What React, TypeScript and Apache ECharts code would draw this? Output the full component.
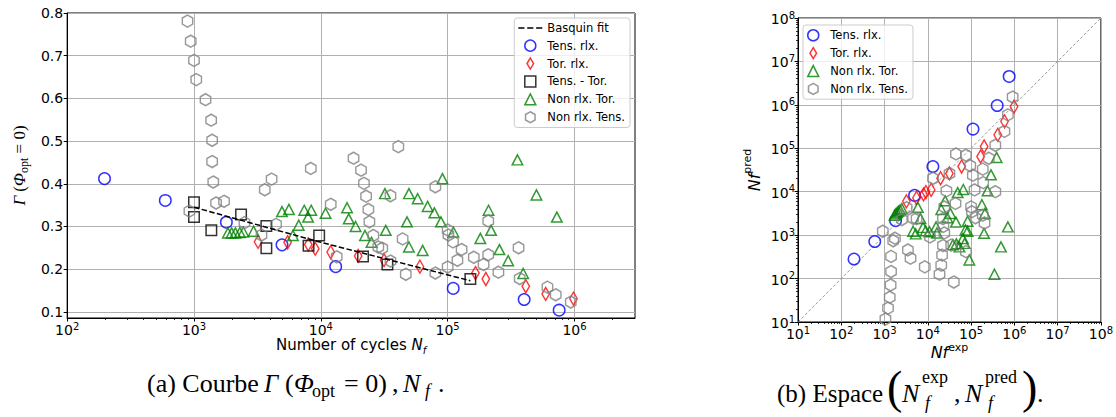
import React, { useEffect, useRef } from "react";
import * as echarts from "echarts";

// ---------- Left chart: Gamma vs N_f ----------
const tensRlxN = [197, 594, 1800, 4940, 13100, 110600, 401000, 757000];
const tensRlxGamma = [0.412, 0.361, 0.31, 0.257, 0.206, 0.155, 0.129, 0.104];

const torRlxN = [3200, 5470, 7960, 9040, 11960, 19700, 31500, 60400, 165700, 200000, 413000, 593000, 982000];
const torRlxGamma = [0.264, 0.263, 0.258, 0.248, 0.24, 0.231, 0.221, 0.206, 0.191, 0.177, 0.16, 0.142, 0.131];

const tensTorN = [1000, 1000, 1370, 2350, 3720, 3720, 8000, 9700, 21500, 33500, 151000];
const tensTorGamma = [0.357, 0.322, 0.291, 0.328, 0.301, 0.249, 0.255, 0.279, 0.23, 0.211, 0.177];

const fitN = [1000, 10000, 151000];
const fitGamma = [0.345, 0.263, 0.173];

const nonRlxTorN = [1850, 1980, 2120, 2300, 2450, 2950, 4940, 5600, 6030, 6700, 7400, 7940, 8400, 10900, 16100, 16600, 18800, 22300, 25100, 32000, 32500, 47800, 49500, 49500, 58000, 63500, 69500, 78500, 88500, 91000, 111000, 181000, 210000, 220000, 256000, 300000, 355000, 394000, 501000, 726000];
const nonRlxTorGamma = [0.285, 0.285, 0.285, 0.286, 0.287, 0.289, 0.335, 0.34, 0.279, 0.303, 0.338, 0.322, 0.338, 0.331, 0.344, 0.318, 0.3, 0.279, 0.263, 0.377, 0.291, 0.311, 0.377, 0.252, 0.365, 0.244, 0.347, 0.332, 0.311, 0.412, 0.287, 0.272, 0.338, 0.291, 0.246, 0.22, 0.456, 0.19, 0.374, 0.322];

const nonRlxTensN = [889, 942, 1000, 1042, 1233, 1365, 1390, 1390, 1419, 1493, 1726, 920, 2500, 3404, 3614, 4093, 4436, 8337, 11970, 13340, 18110, 20750, 21880, 22750, 23710, 24150, 25940, 28380, 30480, 35400, 35400, 40830, 44160, 46770, 80000, 80000, 100000, 101400, 110200, 100000, 119400, 128800, 160700, 191900, 208900, 208900, 251200, 362200, 369800, 612300, 711200, 935000];
const nonRlxTensGamma = [0.781, 0.734, 0.689, 0.644, 0.597, 0.549, 0.502, 0.452, 0.404, 0.355, 0.359, 0.336, 0.309, 0.28, 0.386, 0.411, 0.305, 0.436, 0.352, 0.229, 0.46, 0.432, 0.401, 0.371, 0.34, 0.311, 0.279, 0.252, 0.249, 0.372, 0.219, 0.487, 0.271, 0.188, 0.393, 0.191, 0.292, 0.28, 0.264, 0.205, 0.221, 0.246, 0.228, 0.211, 0.313, 0.234, 0.193, 0.25, 0.178, 0.158, 0.14, 0.123];

const leftDecades = [100, 1000, 10000, 100000, 1000000];
const gammaTicks = [0.1, 0.2, 0.3, 0.4, 0.5, 0.6, 0.7, 0.8];

// ---------- Right chart: Nf exp vs Nf pred ----------
const tensRlxPred = [282, 713, 2150, 8220, 38000, 277000, 966000, 4500000];
const torRlxPred = [6000, 7200, 8700, 9800, 11000, 20400, 26300, 38000, 64600, 110000, 204000, 417000, 912000];

const nonRlxTorExp = [1700, 1820, 1950, 2090, 2290, 2510, 4570, 5250, 5890, 6760, 7760, 8910, 10960, 15490, 16220, 20420, 25120, 33110, 38020, 44670, 45710, 48980, 53700, 66070, 70800, 74100, 83180, 83180, 91200, 177800, 199500, 208900, 239900, 288400, 346700, 389000, 489800, 707900, 64600, 28200];
const nonRlxTorPred = [2880, 3090, 3310, 3550, 3800, 4070, 1230, 1070, 4370, 2400, 1510, 1260, 1200, 1550, 1120, 3890, 6170, 3160, 603, 2000, 631, 9550, 537, 11220, 646, 1320, 2090, 1230, 269, 5010, 1100, 3160, 10470, 24500, 126, 61700, 537, 1550, 832, 2510];

const nonRlxTensExp = [912, 1047, 1202, 1318, 1380, 1413, 1413, 1585, 1738, 2512, 3236, 3467, 3981, 4571, 5500, 8511, 11220, 13180, 18620, 20420, 21380, 22390, 23990, 23990, 26920, 31620, 34670, 39810, 43650, 44670, 75860, 75860, 95500, 100000, 104700, 109600, 120200, 125900, 186200, 190500, 186200, 204200, 257000, 363100, 363100, 588800, 707900, 912000, 22900, 22390];
const nonRlxTensPred = [1230, 11.7, 20.9, 37.2, 70.8, 145, 324, 741, 851, 2290, 4270, 457, 295, 2450, 2400, 186, 912, 20400, 126, 204, 347, 575, 1122, 4467, 10470, 26300, 589, 83, 5370, 74100, 69200, 417, 39800, 4470, 3470, 24000, 11000, 2510, 33100, 16200, 2880, 1905, 58900, 10000, 117500, 245500, 588800, 1514000, 1585, 2400];

const diagonal = [10, 100000000];
const rightDecades = [10, 100, 1000, 10000, 100000, 1000000, 10000000, 100000000];

// ---------- helpers ----------
const SANS = "DejaVu Sans";
const SERIF = "Liberation Serif";
const zip = (a: number[], b: number[]) => a.map((v, i) => [v, b[i]]);

function minorTicks(lo: number, hi: number) {
  const out: number[] = [];
  for (let d = lo; d < hi; d *= 10) {
    for (let k = 2; k <= 9; k++) {
      const v = k * d;
      if (v < hi) out.push(v);
    }
  }
  return out;
}

const HEX = "path://M0,-10 L8.66,-5 L8.66,5 L0,10 L-8.66,5 L-8.66,-5 Z";
const DIAMOND = "path://M0,-10 L6,0 L0,10 L-6,0 Z";
const TRI = "path://M0,-10 L10,10 L-10,10 Z";
const SQUARE = "path://M-10,-10 L10,-10 L10,10 L-10,10 Z";
const DASH_ICON = "path://M0,0 H5.5 V1.5 H0 Z M8,0 H13.5 V1.5 H8 Z M16,0 H21.5 V1.5 H16 Z";

const hollow = (c: string) => ({ color: "rgba(0,0,0,0)", borderColor: c, borderWidth: 1.5 });

const logRich = {
  b: { fontSize: 14, fontFamily: SANS, color: "#000", lineHeight: 16, verticalAlign: "bottom" },
  s: { fontSize: 10, fontFamily: SANS, color: "#000", lineHeight: 16, verticalAlign: "top" },
};
const logFmt = (v: number) => `{b|10}{s|${Math.round(Math.log10(v))}}`;

const gridLine = { show: true, lineStyle: { color: "#b0b0b0", width: 1 } };
const blackLine = { show: true, lineStyle: { color: "#000", width: 1 } };

function minorAxis(gridIndex: number, min: number, max: number, ticks: number[], position: string) {
  return {
    type: "log",
    gridIndex,
    min,
    max,
    position,
    axisLine: { show: false },
    axisLabel: { show: false },
    splitLine: { show: false },
    axisTick: { show: true, length: 2, customValues: ticks, lineStyle: { color: "#000", width: 0.8 } },
  };
}

function capText(text: string, x: number, y: number, size: number, italic = false, family = SERIF) {
  return {
    type: "text",
    x,
    y,
    style: {
      text,
      fontSize: size,
      fontFamily: family,
      fontStyle: italic ? "italic" : "normal",
      fill: "#000",
      align: "left",
      verticalAlign: "middle",
    },
  };
}

export default function App() {
  const ref = useRef<HTMLDivElement>(null);
  useEffect(() => {
    if (!ref.current) return;
    const chart = echarts.init(ref.current, undefined, { renderer: "svg" });
    const leftMinor = minorTicks(100, 3000000);
    const rightMinor = minorTicks(10, 100000000);

    const legendCommon = {
      orient: "vertical",
      itemWidth: 24,
      itemHeight: 11,
      itemGap: 5.4,
      padding: [4, 5, 4, 4],
      backgroundColor: "rgba(255,255,255,0.8)",
      borderColor: "#cccccc",
      borderWidth: 1,
      borderRadius: 3,
      selectedMode: false,
      symbolKeepAspect: true,
      itemStyle: { borderWidth: 1.5 },
      textStyle: { fontFamily: SANS, fontSize: 11.5, color: "#000" },
    };

    const option: any = {
      animation: false,
      backgroundColor: "#ffffff",
      grid: [
        { left: 59, top: 13, width: 576, height: 305, show: true, borderColor: "#000", borderWidth: 1, backgroundColor: "transparent" },
        { left: 798, top: 18, width: 303, height: 304, show: true, borderColor: "#000", borderWidth: 1, backgroundColor: "transparent" },
      ],
      legend: [
        {
          ...legendCommon,
          right: 486,
          top: 18,
          data: [
            { name: "Basquin fit", icon: DASH_ICON, itemStyle: { color: "#000", borderWidth: 0 } },
            "Tens. rlx.",
            "Tor. rlx.",
            "Tens. - Tor.",
            "Non rlx. Tor.",
            "Non rlx. Tens.",
          ],
        },
        { ...legendCommon, left: 803, top: 25, data: ["Tens. rlx.", "Tor. rlx.", "Non rlx. Tor.", "Non rlx. Tens."] },
      ],
      xAxis: [
        {
          type: "log",
          gridIndex: 0,
          min: 100,
          max: 3000000,
          splitNumber: 5,
          axisLine: blackLine,
          axisTick: { show: true, length: 3.5, customValues: leftDecades, lineStyle: { color: "#000" } },
          axisLabel: { customValues: leftDecades, formatter: logFmt, rich: logRich, margin: 3 },
          splitLine: gridLine,
          name: "Number of cycles {i|N}{u|f}",
          nameLocation: "middle",
          nameGap: 27,
          nameMoveOverlap: false,
          nameTextStyle: {
            fontFamily: SANS,
            fontSize: 15,
            color: "#000",
            lineHeight: 20,
            verticalAlign: "middle",
            rich: {
              i: { fontFamily: SANS, fontSize: 15, fontStyle: "italic", lineHeight: 20, verticalAlign: "middle" },
              u: { fontFamily: SANS, fontSize: 10, fontStyle: "italic", lineHeight: 20, verticalAlign: "bottom" },
            },
          },
        },
        minorAxis(0, 100, 3000000, leftMinor, "bottom"),
        {
          type: "log",
          gridIndex: 1,
          min: 10,
          max: 100000000,
          splitNumber: 7,
          axisLine: blackLine,
          axisTick: { show: true, length: 3.5, customValues: rightDecades, lineStyle: { color: "#000" } },
          axisLabel: { customValues: rightDecades, formatter: logFmt, rich: logRich, margin: 3 },
          splitLine: gridLine,
          name: "{n|Nf}{s|exp}",
          nameLocation: "middle",
          nameGap: 29,
          nameMoveOverlap: false,
          nameTextStyle: {
            verticalAlign: "middle",
            lineHeight: 18,
            rich: {
              n: { fontFamily: SANS, fontSize: 16, fontStyle: "italic", color: "#000", lineHeight: 18, verticalAlign: "bottom" },
              s: { fontFamily: SANS, fontSize: 11, color: "#000", lineHeight: 18, verticalAlign: "top" },
            },
          },
        },
        minorAxis(1, 10, 100000000, rightMinor, "bottom"),
      ],
      yAxis: [
        {
          type: "value",
          gridIndex: 0,
          min: 0.0857,
          max: 0.8,
          splitNumber: 8,
          axisLine: blackLine,
          axisTick: { show: true, length: 3.5, customValues: gammaTicks, lineStyle: { color: "#000" } },
          axisLabel: {
            customValues: gammaTicks,
            formatter: (v: number) => v.toFixed(1),
            fontFamily: SANS,
            fontSize: 14,
            color: "#000",
            margin: 4,
          },
          splitLine: gridLine,
          name: "{i|Γ} ({i|Φ}{u|opt} = 0)",
          nameLocation: "middle",
          nameRotate: 90,
          nameGap: 31,
          nameTextStyle: {
            fontFamily: SERIF,
            fontSize: 17,
            color: "#000",
            lineHeight: 22,
            verticalAlign: "middle",
            rich: {
              i: { fontFamily: SERIF, fontSize: 17, fontStyle: "italic", lineHeight: 22, verticalAlign: "middle" },
              u: { fontFamily: SERIF, fontSize: 12, lineHeight: 22, verticalAlign: "bottom" },
            },
          },
        },
        {
          type: "log",
          gridIndex: 1,
          min: 10,
          max: 100000000,
          splitNumber: 7,
          axisLine: blackLine,
          axisTick: { show: true, length: 3.5, customValues: rightDecades, lineStyle: { color: "#000" } },
          axisLabel: { customValues: rightDecades, formatter: logFmt, rich: logRich, margin: 3 },
          splitLine: gridLine,
          name: "{n|Nf}{s|pred}",
          nameLocation: "middle",
          nameRotate: 90,
          nameGap: 36,
          nameTextStyle: {
            rich: {
              n: { fontFamily: SANS, fontSize: 16, fontStyle: "italic", color: "#000", lineHeight: 20, verticalAlign: "bottom" },
              s: { fontFamily: SANS, fontSize: 11, color: "#000", lineHeight: 20, verticalAlign: "top" },
            },
          },
        },
        minorAxis(1, 10, 100000000, rightMinor, "left"),
      ],
      series: [
        // left
        {
          name: "Basquin fit", type: "line", xAxisIndex: 0, yAxisIndex: 0, data: zip(fitN, fitGamma),
          symbol: "none", itemStyle: { color: "#000" }, lineStyle: { color: "#000", width: 1.5, type: [5.5, 2.4] }, z: 4,
        },
        { name: "Tens. rlx.", type: "scatter", xAxisIndex: 0, yAxisIndex: 0, data: zip(tensRlxN, tensRlxGamma), symbol: "circle", symbolSize: 11.5, itemStyle: hollow("#0000ff") },
        { name: "Tor. rlx.", type: "scatter", xAxisIndex: 0, yAxisIndex: 0, data: zip(torRlxN, torRlxGamma), symbol: DIAMOND, symbolSize: [7.5, 13], itemStyle: hollow("#ff0000") },
        { name: "Tens. - Tor.", type: "scatter", xAxisIndex: 0, yAxisIndex: 0, data: zip(tensTorN, tensTorGamma), symbol: SQUARE, symbolSize: 10.5, itemStyle: hollow("#000000") },
        { name: "Non rlx. Tor.", type: "scatter", xAxisIndex: 0, yAxisIndex: 0, data: zip(nonRlxTorN, nonRlxTorGamma), symbol: TRI, symbolSize: [10.5, 10], itemStyle: hollow("#008000") },
        { name: "Non rlx. Tens.", type: "scatter", xAxisIndex: 0, yAxisIndex: 0, data: zip(nonRlxTensN, nonRlxTensGamma), symbol: HEX, symbolSize: [10.4, 12], itemStyle: hollow("#808080") },
        // right
        {
          name: "diag", type: "line", xAxisIndex: 2, yAxisIndex: 1, data: zip(diagonal, diagonal), symbol: "none", silent: true,
          lineStyle: { color: "#808080", width: 0.8, type: [3, 2] }, z: 1,
        },
        { name: "Tens. rlx.", type: "scatter", xAxisIndex: 2, yAxisIndex: 1, data: zip(tensRlxN, tensRlxPred), symbol: "circle", symbolSize: 11.5, itemStyle: hollow("#0000ff") },
        { name: "Tor. rlx.", type: "scatter", xAxisIndex: 2, yAxisIndex: 1, data: zip(torRlxN, torRlxPred), symbol: DIAMOND, symbolSize: [7.5, 13], itemStyle: hollow("#ff0000") },
        { name: "Non rlx. Tor.", type: "scatter", xAxisIndex: 2, yAxisIndex: 1, data: zip(nonRlxTorExp, nonRlxTorPred), symbol: TRI, symbolSize: [10.5, 10], itemStyle: hollow("#008000") },
        { name: "Non rlx. Tens.", type: "scatter", xAxisIndex: 2, yAxisIndex: 1, data: zip(nonRlxTensExp, nonRlxTensPred), symbol: HEX, symbolSize: [10.4, 12], itemStyle: hollow("#808080") },
      ],
      graphic: [
        // caption (a)
        capText("(a) Courbe", 147, 383, 26),
        capText("Γ", 264, 383, 25, true),
        capText("(", 285, 383, 26),
        capText("Φ", 294, 383, 26, true),
        capText("opt", 312, 391, 18),
        capText("= 0)", 344, 383, 26),
        capText(",", 392, 383, 26),
        capText("N", 403, 383, 26, true),
        capText("f", 425, 391, 18, true),
        capText(".", 438, 383, 26),
        // caption (b)
        capText("(b) Espace", 777, 393, 25),
        capText("(", 887, 387, 46),
        capText("N", 902, 393, 26, true),
        capText("exp", 922, 377, 18),
        capText("f", 925, 403, 18, true),
        capText(",", 954, 393, 26),
        capText("N", 965, 393, 26, true),
        capText("pred", 985, 377, 18),
        capText("f", 988, 403, 18, true),
        capText(")", 1022, 387, 46),
        capText(".", 1037, 393, 26),
      ],
    };
    chart.setOption(option);
    return () => chart.dispose();
  }, []);
  return <div ref={ref} style={{ position: "absolute", left: 0, top: 0, width: 1116, height: 417 }} />;
}
